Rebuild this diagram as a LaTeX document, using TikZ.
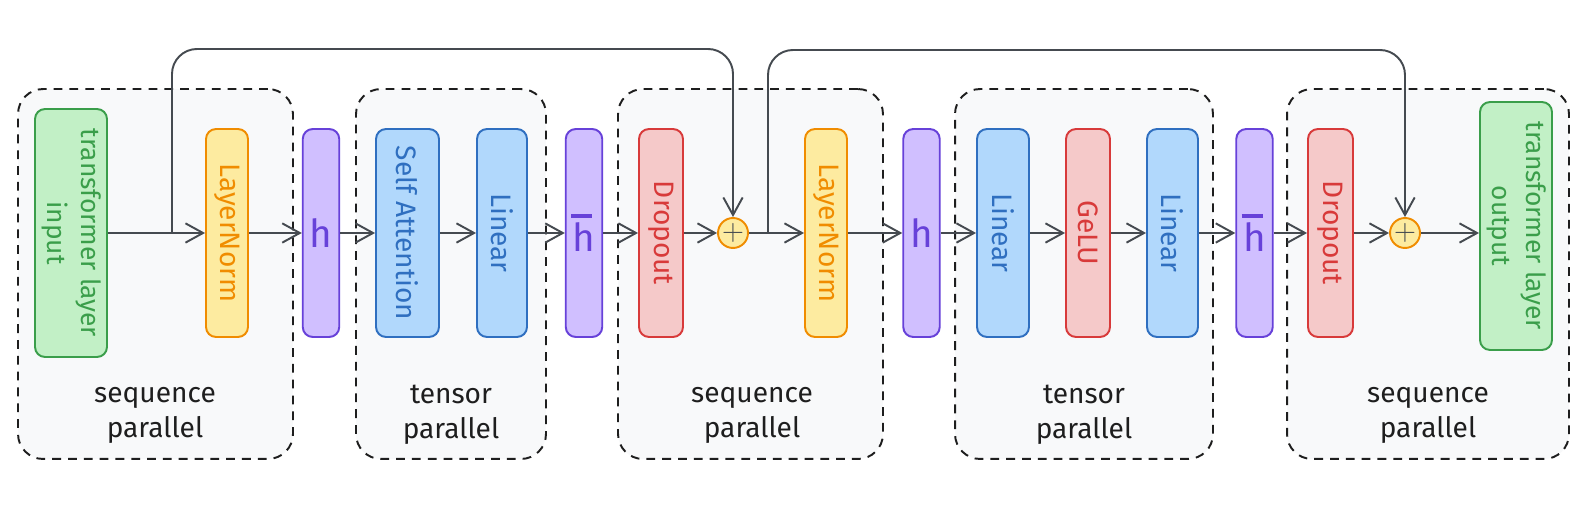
\documentclass[tikz,border=0pt]{standalone}
\usepackage{fontspec}
\setmainfont{Fira Sans}
\usetikzlibrary{arrows.meta}

\definecolor{ink}{HTML}{1E1E1E}
\definecolor{wire}{HTML}{454A50}
\definecolor{grpfill}{HTML}{F8F9FA}
\definecolor{grnline}{HTML}{3A9E4A}
\definecolor{grnfill}{HTML}{C2F0C6}
\definecolor{ylwline}{HTML}{F08C00}
\definecolor{ylwfill}{HTML}{FDEBA0}
\definecolor{prpline}{HTML}{6741D9}
\definecolor{prpfill}{HTML}{D0BFFF}
\definecolor{bluline}{HTML}{2F6FC0}
\definecolor{blufill}{HTML}{B1D8FC}
\definecolor{redline}{HTML}{D83A3A}
\definecolor{redfill}{HTML}{F5C9C9}

\newcommand{\vtext}[1]{\rotatebox{-90}{#1}}
\newcommand{\hbarred}{\makebox[0pt][l]{\hspace{-0.04em}\rule[0.86em]{0.55em}{2.4pt}}h}

\begin{document}
\begin{tikzpicture}[x=0.02cm, y=-0.02cm,
	grp/.style={draw=ink, dash pattern=on 5pt off 4pt, line width=1.1pt, fill=grpfill,
		rounded corners=0.5cm, minimum width=#1, minimum height=7.4cm},
	glabel/.style={text=ink, align=center, font=\fontsize{16pt}{20pt}\selectfont},
	blk/.style={line width=1.1pt, rounded corners=0.2cm, inner sep=0pt, minimum height=4.16cm,
		font=\fontsize{16pt}{20pt}\selectfont},
	lnorm/.style={blk, draw=ylwline, fill=ylwfill, text=ylwline, minimum width=0.84cm},
	comm/.style={blk, draw=prpline, fill=prpfill, text=prpline, minimum width=0.73cm,
		font=\fontsize{22pt}{22pt}\selectfont},
	lin/.style={blk, draw=bluline, fill=blufill, text=bluline},
	drop/.style={blk, draw=redline, fill=redfill, text=redline},
	io/.style={blk, draw=grnline, fill=grnfill, text=grnline, minimum width=1.44cm,
		minimum height=4.96cm, font=\fontsize{15pt}{19pt}\selectfont},
	addn/.style={circle, draw=ylwline, fill=ylwfill, line width=1.1pt, minimum size=0.6cm,
		inner sep=0pt, text=wire, font=\fontsize{19pt}{19pt}\selectfont},
	flow/.style={draw=wire, line width=1.1pt, -{Straight Barb[length=10pt,width=11pt]}}
	]
	\useasboundingbox (0,0) rectangle (1586,526);
	\fill[white] (0,0) rectangle (1586,526);

	\node[grp=5.5cm] (G1) at (155.5,274) {};
	\node[grp=3.8cm] (G2) at (451,274) {};
	\node[grp=5.3cm] (G3) at (750.5,274) {};
	\node[grp=5.16cm] (G4) at (1084,274) {};
	\node[grp=5.64cm] (G5) at (1428,274) {};

	\node[glabel] (L1) at (155,415) {sequence\\parallel};
	\node[glabel] (L2) at (451,415) {tensor\\parallel};
	\node[glabel] (L3) at (752,415) {sequence\\parallel};
	\node[glabel] (L4) at (1084,415) {tensor\\parallel};
	\node[glabel] (L5) at (1428,415) {sequence\\parallel};

	\node[io] (in) at (71,233) {\vtext{\begin{tabular}{@{}c@{}}transformer layer\\input\end{tabular}}};
	\node[lnorm] (ln1) at (227,233) {\vtext{LayerNorm}};
	\node[comm] (g1) at (321,233) {h};
	\node[lin, minimum width=1.26cm] (sa) at (407.5,233) {\vtext{Self Attention}};
	\node[lin, minimum width=1cm] (lin1) at (502,233) {\vtext{Linear}};
	\node[comm] (gb1) at (584,233) {\hbarred};
	\node[drop, minimum width=0.88cm] (do1) at (661,233) {\vtext{Dropout}};
	\node[addn] (add1) at (733,233) {$+$};
	\node[lnorm] (ln2) at (826,233) {\vtext{LayerNorm}};
	\node[comm] (g2) at (921.5,233) {h};
	\node[lin, minimum width=1.04cm] (lin2) at (1003,233) {\vtext{Linear}};
	\node[drop, minimum width=0.88cm] (gelu) at (1088,233) {\vtext{GeLU}};
	\node[lin, minimum width=1.02cm] (lin3) at (1172.5,233) {\vtext{Linear}};
	\node[comm] (gb2) at (1254.5,233) {\hbarred};
	\node[drop, minimum width=0.9cm] (do2) at (1330.5,233) {\vtext{Dropout}};
	\node[addn] (add2) at (1405,233) {$+$};
	\node[io] (out) at (1516,226) {\vtext{\begin{tabular}{@{}c@{}}transformer layer\\output\end{tabular}}};

	\draw[flow] (in) -- (ln1);
	\draw[flow] (ln1) -- (g1);
	\draw[flow] (g1) -- (sa);
	\draw[flow] (sa) -- (lin1);
	\draw[flow] (lin1) -- (gb1);
	\draw[flow] (gb1) -- (do1);
	\draw[flow] (do1) -- (add1);
	\draw[flow] (add1) -- (ln2);
	\draw[flow] (ln2) -- (g2);
	\draw[flow] (g2) -- (lin2);
	\draw[flow] (lin2) -- (gelu);
	\draw[flow] (gelu) -- (lin3);
	\draw[flow] (lin3) -- (gb2);
	\draw[flow] (gb2) -- (do2);
	\draw[flow] (do2) -- (add2);
	\draw[flow] (add2) -- (add2 -| out.west);

	\coordinate (r1) at (172,233);
	\coordinate (top1) at (172,49);
	\coordinate (r2) at (768,233);
	\coordinate (top2) at (768,50);
	\draw[flow, rounded corners=0.5cm] (r1) -- (top1) -| (add1);
	\draw[flow, rounded corners=0.5cm] (r2) -- (top2) -| (add2);
\end{tikzpicture}
\end{document}
